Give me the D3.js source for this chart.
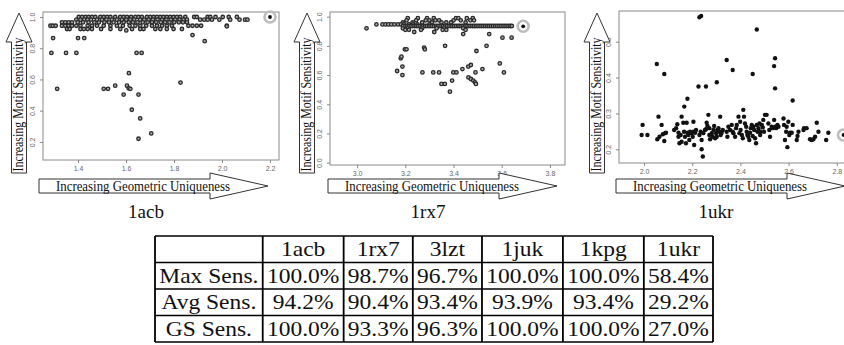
<!DOCTYPE html>
<html><head><meta charset="utf-8">
<script src="https://cdn.jsdelivr.net/npm/d3@7"></script>
<style>html,body{margin:0;padding:0;background:#fff;}svg{display:block;}</style>
</head><body>
<svg id="c" width="844" height="345"></svg>
<script>
// ---------------- DATA ----------------
const panelNames = ["1acb", "1rx7", "1ukr"];
const xAxisTitle = "Increasing Geometric Uniqueness";
const yAxisTitle = "Increasing Motif Sensitivity";

// 1acb: rows of the dense top band [y, xs], then scattered points
const acbRows = [
  [1.0,   [1.403,1.417,1.431,1.444,1.458,1.472,1.493,1.507,1.521,1.535,1.555,1.576,1.590,1.604,1.621,1.639,1.652,1.666,1.687,1.701,1.715,1.729,1.743,1.756,1.770,1.784,1.798,1.812,1.826,1.847,1.884,1.895,1.940,1.951,1.973,2.003,2.028,2.062]],
  [0.983, [1.393,1.410,1.426,1.440,1.454,1.479,1.500,1.518,1.541,1.562,1.583,1.601,1.618,1.634,1.659,1.676,1.694,1.712,1.731,1.750,1.768,1.787,1.805,1.823,1.840,1.854,1.909,1.926,1.940,1.958,1.989,2.034,2.073,2.096,2.106]],
  [0.966, [1.333,1.347,1.361,1.375,1.399,1.421,1.444,1.468,1.487,1.510,1.529,1.548,1.571,1.590,1.611,1.629,1.648,1.670,1.690,1.708,1.726,1.745,1.763,1.781,1.801,1.820,1.837,1.854]],
  [0.944, [1.285,1.295,1.307,1.333,1.347,1.361,1.375,1.393,1.410,1.440,1.458,1.479,1.507,1.535,1.562,1.587,1.615,1.639,1.659,1.684,1.708,1.729,1.750,1.770,1.791,1.860,1.877,1.895,1.913,2.020]],
  [0.923, [1.354,1.365,1.410,1.424,1.440,1.458,1.496,1.535,1.576,1.625,1.659,1.673,1.722,1.743,1.770,1.798,1.833]]
];
const acbScatter = [
  [1.289,0.77],[1.296,0.865],[1.313,0.54],[1.35,0.77],[1.393,0.77],[1.40,0.865],[1.426,0.865],
  [1.601,0.914],[1.612,0.64],[1.555,0.56],[1.507,0.54],[1.525,0.54],[1.604,0.56],[1.611,0.543],
  [1.618,0.54],[1.590,0.503],[1.652,0.503],[1.624,0.406],[1.659,0.35],[1.652,0.22],[1.705,0.254],
  [1.644,0.77],[1.665,0.77],[1.827,0.58],[1.877,0.884],[1.928,0.845],[2.02,0.94]
];
const acbHighlight = [2.2, 1.0];

// 1rx7
const rx7Rows = [
  [0.99,  [3.210,3.252,3.290,3.318,3.410,3.420,3.455,3.480]],
  [0.975, [3.205,3.245,3.285,3.300,3.325,3.340,3.400,3.430,3.470,3.485]],
  [0.96,  [3.190,3.230,3.270,3.310,3.350,3.370,3.390,3.450]],
  [0.947, [3.080,3.105,3.118,3.130,3.142,3.155,3.170,3.182,3.195,3.215,3.232,3.250,3.300]],
  [0.936, [3.190,3.200,3.208,3.215,3.222,3.230,3.238,3.245,3.252,3.260,3.268,3.275,3.283,3.290,3.298,3.305,3.312,3.320,3.328,3.335,3.342,3.350,3.357,3.365,3.372,3.380,3.388,3.395,3.402,3.410,3.418,3.425,3.433,3.440,3.448,3.455,3.463,3.470,3.478,3.485,3.493,3.500,3.508,3.516,3.524,3.532,3.540,3.548,3.556,3.564,3.572,3.580,3.588,3.596,3.604,3.612,3.620,3.628,3.636,3.642]],
  [0.92,  [3.039,3.190,3.210,3.270,3.330,3.360,3.440]],
  [0.91,  [3.200,3.215,3.265,3.355,3.370,3.450]],
  [0.895, [3.237,3.320]]
];
const rx7Scatter = [
  [3.44,0.881],[3.548,0.881],[3.603,0.856],[3.641,0.856],[3.537,0.80],[3.365,0.80],
  [3.278,0.788],[3.281,0.776],[3.198,0.776],[3.205,0.776],[3.181,0.715],[3.184,0.726],
  [3.188,0.658],[3.166,0.628],[3.188,0.60],[3.271,0.618],[3.316,0.618],[3.340,0.618],
  [3.399,0.618],[3.412,0.618],[3.437,0.641],[3.461,0.658],[3.472,0.669],[3.462,0.584],
  [3.472,0.573],[3.482,0.562],[3.489,0.55],[3.493,0.539],[3.491,0.618],[3.495,0.765],
  [3.52,0.641],[3.592,0.68],[3.609,0.618],[3.35,0.539],[3.364,0.539],[3.394,0.562],[3.385,0.486]
];
const rx7Highlight = [3.689, 0.934];

// 1ukr
const ukrScatter = [
  [1.990,0.240],[1.994,0.268],[2.014,0.240],[2.055,0.228],[2.060,0.291],[2.064,0.235],[2.073,0.268],
  [2.078,0.242],[2.084,0.223],[2.087,0.245],[2.091,0.246],[2.125,0.254],[2.133,0.259],[2.138,0.270],
  [2.143,0.246],[2.143,0.235],[2.147,0.217],[2.156,0.291],[2.152,0.240],[2.156,0.221],[2.163,0.274],
  [2.166,0.249],[2.170,0.235],[2.174,0.217],[2.177,0.274],[2.180,0.246],[2.184,0.240],[2.188,0.226],
  [2.191,0.249],[2.198,0.245],[2.202,0.235],[2.205,0.277],[2.205,0.249],[2.208,0.212],[2.212,0.246],
  [2.216,0.254],[2.230,0.240],[2.235,0.249],[2.239,0.226],[2.239,0.200],[2.244,0.180],[2.246,0.245],
  [2.253,0.254],[2.257,0.256],[2.260,0.274],[2.263,0.265],[2.267,0.296],[2.271,0.259],[2.271,0.240],
  [2.274,0.228],[2.281,0.245],[2.285,0.235],[2.288,0.254],[2.291,0.265],[2.295,0.231],[2.299,0.245],
  [2.302,0.235],[2.304,0.254],[2.309,0.259],[2.313,0.249],[2.316,0.291],[2.318,0.240],[2.322,0.246],
  [2.327,0.254],[2.343,0.249],[2.346,0.235],[2.350,0.263],[2.357,0.254],[2.364,0.268],[2.368,0.249],
  [2.371,0.245],[2.378,0.235],[2.382,0.259],[2.385,0.268],[2.392,0.291],[2.396,0.245],[2.399,0.277],
  [2.401,0.254],[2.406,0.240],[2.410,0.231],[2.412,0.310],[2.415,0.291],[2.419,0.272],[2.424,0.263],
  [2.426,0.249],[2.429,0.240],[2.433,0.235],[2.437,0.226],[2.440,0.246],[2.443,0.259],[2.447,0.268],
  [2.451,0.237],[2.454,0.263],[2.457,0.254],[2.461,0.231],[2.465,0.217],[2.468,0.268],[2.471,0.249],
  [2.475,0.259],[2.479,0.272],[2.482,0.240],[2.484,0.249],[2.489,0.268],[2.493,0.261],[2.495,0.282],
  [2.498,0.249],[2.502,0.296],[2.509,0.296],[2.516,0.272],[2.520,0.254],[2.523,0.235],[2.530,0.263],
  [2.534,0.259],[2.540,0.282],[2.544,0.263],[2.548,0.259],[2.554,0.268],[2.558,0.263],[2.579,0.286],
  [2.581,0.268],[2.585,0.226],[2.590,0.249],[2.592,0.263],[2.595,0.206],[2.599,0.277],[2.603,0.240],
  [2.606,0.246],[2.613,0.246],[2.617,0.268],[2.634,0.226],[2.637,0.237],[2.641,0.249],[2.662,0.254],
  [2.664,0.259],[2.675,0.259],[2.689,0.228],[2.696,0.226],[2.703,0.228],[2.710,0.235],[2.717,0.274],
  [2.724,0.249],[2.756,0.226],[2.765,0.246],
  [2.230,0.568],[2.237,0.572],[2.468,0.534],[2.053,0.438],[2.084,0.410],[2.343,0.449],[2.368,0.421],
  [2.451,0.410],[2.540,0.432],[2.544,0.454],[2.544,0.370],[2.226,0.375],[2.257,0.375],[2.302,0.387],
  [2.180,0.341],[2.167,0.319],[2.617,0.336]
];
const ukrHighlight = [2.828, 0.240];

const acbXTicks = [1.4, 1.6, 1.8, 2.0, 2.2];
const acbYTicks = [0.2, 0.4, 0.6, 0.8, 1.0];
const rx7XTicks = [3.0, 3.2, 3.4, 3.6, 3.8];
const rx7YTicks = [0.0, 0.2, 0.4, 0.6, 0.8, 1.0];
const ukrXTicks = [2.0, 2.2, 2.4, 2.6, 2.8];
const ukrYTicks = [0.2, 0.3, 0.4, 0.5];

// Table
const tableColumns = ["", "1acb", "1rx7", "3lzt", "1juk", "1kpg", "1ukr"];
const tableRowLabels = ["Max Sens.", "Avg Sens.", "GS Sens."];
const maxSens = ["100.0%", "98.7%", "96.7%", "100.0%", "100.0%", "58.4%"];
const avgSens = ["94.2%", "90.4%", "93.4%", "93.9%", "93.4%", "29.2%"];
const gsSens  = ["100.0%", "93.3%", "96.3%", "100.0%", "100.0%", "27.0%"];

// ---------------- DRAW ----------------
const SERIF = "'Liberation Serif', 'Times New Roman', 'DejaVu Serif', serif";
const SANS = "'Liberation Sans', Arial, sans-serif";
const svg = d3.select("#c");
const flatten = rows => rows.flatMap(([y, xs]) => xs.map(x => [x, y]));

const panels = [
  { name: panelNames[0], box: {l: 43, r: 279, t: 12, b: 160}, xDom: [1.254, 2.2375], yDom: [0.084, 1.032],
    xTicks: acbXTicks, yTicks: acbYTicks, pts: flatten(acbRows).concat(acbScatter), hi: acbHighlight,
    open: true, vx: 19, hl: 39, labelX: 146 },
  { name: panelNames[1], box: {l: 330, r: 565, t: 12, b: 165}, xDom: [2.8875, 3.8625], yDom: [-0.016, 1.032],
    xTicks: rx7XTicks, yTicks: rx7YTicks, pts: flatten(rx7Rows).concat(rx7Scatter), hi: rx7Highlight,
    open: true, vx: 307, hl: 328, labelX: 428 },
  { name: panelNames[2], box: {l: 619, r: 850, t: 11, b: 163}, xDom: [1.896, 2.855], yDom: [0.1618, 0.5856],
    xTicks: ukrXTicks, yTicks: ukrYTicks, pts: ukrScatter, hi: ukrHighlight,
    open: false, vx: 597, hl: 616, labelX: 716 }
];

const fmt = d3.format(".1f");

panels.forEach(p => {
  const g = svg.append("g");
  const x = d3.scaleLinear().domain(p.xDom).range([p.box.l, p.box.r]);
  const y = d3.scaleLinear().domain(p.yDom).range([p.box.b, p.box.t]);

  g.append("rect").attr("x", p.box.l).attr("y", p.box.t)
    .attr("width", p.box.r - p.box.l).attr("height", p.box.b - p.box.t)
    .attr("fill", "none").attr("stroke", "#8a8a8a").attr("stroke-width", 1);

  const xa = g.append("g").attr("transform", `translate(0,${p.box.b})`)
    .call(d3.axisBottom(x).tickValues(p.xTicks).tickFormat(fmt).tickSize(3).tickPadding(3));
  xa.select(".domain").remove();
  xa.selectAll("line").attr("stroke", "#888");
  xa.selectAll("text").attr("fill", "#666").style("font-family", SANS).style("font-size", "7px");

  const ya = g.append("g").attr("transform", `translate(${p.box.l},0)`)
    .call(d3.axisLeft(y).tickValues(p.yTicks).tickFormat(fmt).tickSize(3).tickPadding(2));
  ya.select(".domain").remove();
  ya.selectAll("line").attr("stroke", "#888");
  ya.selectAll("text").attr("fill", "#666").style("font-family", SANS).style("font-size", "7px")
    .attr("text-anchor", "middle").attr("dy", null).attr("x", null)
    .attr("transform", "translate(-8,0) rotate(-90)").attr("y", 0);

  // points
  g.append("g").selectAll("circle").data(p.pts).join("circle")
    .attr("cx", d => x(d[0])).attr("cy", d => y(d[1]))
    .attr("r", p.open ? 1.75 : 2.2)
    .attr("fill", p.open ? "#a8a8a8" : "#111")
    .attr("stroke", p.open ? "#2a2a2a" : "none")
    .attr("stroke-width", p.open ? 1.3 : 0);

  // highlight
  g.append("circle").attr("cx", x(p.hi[0])).attr("cy", y(p.hi[1])).attr("r", 5.5)
    .attr("fill", "none").attr("stroke", "#bdbdbd").attr("stroke-width", 2.6);
  g.append("circle").attr("cx", x(p.hi[0])).attr("cy", y(p.hi[1])).attr("r", 1.9).attr("fill", "#111");

  // vertical arrow
  const cx = p.vx, tip = 13, hb = 42, bot = 173, hw = 13, sw = 7.5;
  g.append("path").attr("d",
    `M${cx},${tip} L${cx + hw},${hb} L${cx + sw},${hb} L${cx + sw},${bot} L${cx - sw},${bot} L${cx - sw},${hb} L${cx - hw},${hb} Z`)
    .attr("fill", "#fff").attr("stroke", "#333").attr("stroke-width", 1);
  g.append("text").attr("transform", `translate(${cx + 4},${(bot + 36) / 2}) rotate(-90)`)
    .attr("text-anchor", "middle").attr("textLength", 134).attr("lengthAdjust", "spacingAndGlyphs")
    .style("font-family", SERIF).style("font-size", "14px").attr("fill", "#111")
    .text(yAxisTitle);

  // horizontal arrow
  const L = p.hl, st = 179, sb = 193, hbX = L + 171, tipX = L + 229, ht = 173, hbm = 199, ty = 186;
  g.append("path").attr("d",
    `M${L},${st} L${hbX},${st} L${hbX},${ht} L${tipX},${ty} L${hbX},${hbm} L${hbX},${sb} L${L},${sb} Z`)
    .attr("fill", "#fff").attr("stroke", "#333").attr("stroke-width", 1);
  g.append("text").attr("x", L + 17).attr("y", 190.5)
    .attr("textLength", 174).attr("lengthAdjust", "spacingAndGlyphs")
    .style("font-family", SERIF).style("font-size", "14.5px").attr("fill", "#111")
    .text(xAxisTitle);

  // panel label
  g.append("text").attr("x", p.labelX).attr("y", 218).attr("text-anchor", "middle")
    .style("font-family", SERIF).style("font-size", "19px").attr("fill", "#111")
    .text(p.name);
});

// ---------------- TABLE ----------------
const tbl = svg.append("g");
const tLeft = 155, tTop = 236, tWidth = 558, rowH = 26.5;
const rows = [tableColumns, [tableRowLabels[0], ...maxSens], [tableRowLabels[1], ...avgSens], [tableRowLabels[2], ...gsSens]];
const tsize = 21;
const meas = svg.append("text").style("font-family", SERIF).style("font-size", tsize + "px");
const colW = tableColumns.map((_, ci) => d3.max(rows, r => { meas.text(r[ci]); return meas.node().getComputedTextLength(); }));
meas.remove();
const stretch = 1.12; // glyphs drawn slightly wider, like Computer Modern
const pad = (tWidth - d3.sum(colW) * stretch) / (2 * colW.length);
const edges = [tLeft];
colW.forEach(w => edges.push(edges[edges.length - 1] + w * stretch + 2 * pad));
const colX = d3.scaleOrdinal().domain(d3.range(colW.length)).range(colW.map((w, i) => (edges[i] + edges[i + 1]) / 2));
const rowY = d3.scaleLinear().domain([0, rows.length]).range([tTop, tTop + rowH * rows.length]);

rows.forEach((r, ri) => {
  r.forEach((t, ci) => {
    tbl.append("text").attr("transform", `translate(${colX(ci)},${rowY(ri) + 20}) scale(${stretch},1)`)
      .attr("text-anchor", "middle")
      .style("font-family", SERIF).style("font-size", tsize + "px").attr("fill", "#111").text(t);
  });
});
d3.range(rows.length + 1).forEach(ri => {
  tbl.append("line").attr("x1", edges[0]).attr("x2", edges[edges.length - 1])
    .attr("y1", rowY(ri)).attr("y2", rowY(ri)).attr("stroke", "#000").attr("stroke-width", 1.6);
});
edges.forEach(ex => {
  tbl.append("line").attr("x1", ex).attr("x2", ex).attr("y1", rowY(0)).attr("y2", rowY(rows.length))
    .attr("stroke", "#000").attr("stroke-width", 1.8);
});
</script>
</body></html>
